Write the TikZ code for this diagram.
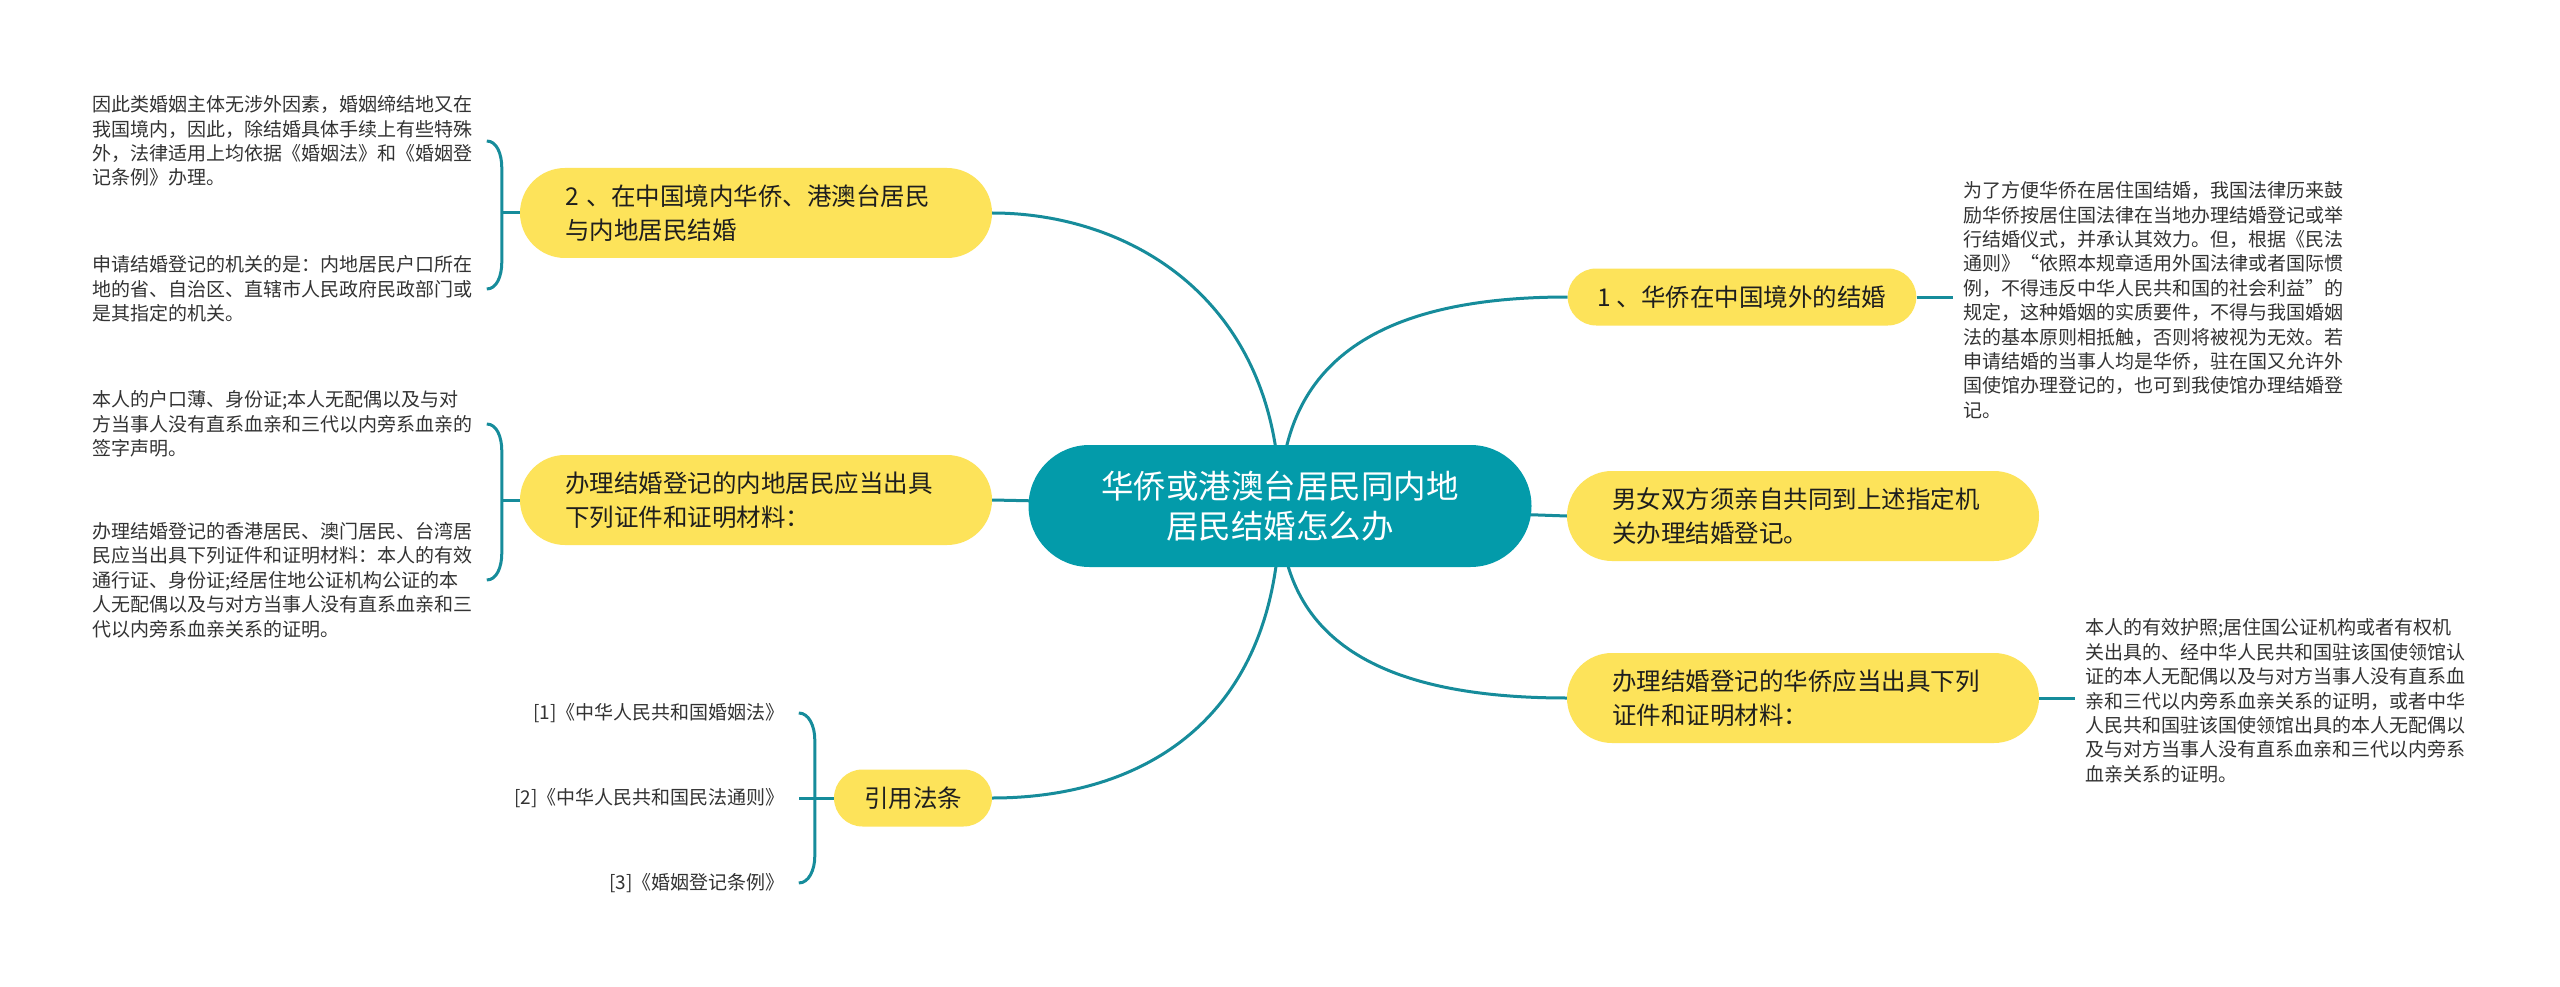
\documentclass[tikz,border=0pt]{standalone}
\usepackage{fontspec}
\newfontfamily\cjk{Noto Sans CJK SC}
\usetikzlibrary{calc, backgrounds}
\definecolor{hubteal}{RGB}{3,155,170}
\definecolor{limbteal}{RGB}{22,140,155}
\definecolor{topicyellow}{RGB}{253,227,90}
\definecolor{inkdark}{RGB}{30,30,30}
\definecolor{inkgrey}{RGB}{51,51,51}

\begin{document}
\begin{tikzpicture}[x=1pt, y=-1pt,
  hub/.style={fill=hubteal, text=white, font=\cjk\fontsize{32.5}{40}\selectfont, align=center,
    minimum width=503pt, minimum height=122pt, rounded corners=61pt, inner sep=0pt},
  topic/.style={fill=topicyellow, text=inkdark, font=\cjk\fontsize{24.5}{34}\selectfont, align=left,
    text width=382pt, inner xsep=45pt, inner ysep=0pt, minimum height=90pt, rounded corners=45pt},
  shorttopic/.style={fill=topicyellow, text=inkdark, font=\cjk\fontsize{24.5}{34}\selectfont,
    inner xsep=30pt, inner ysep=0pt, minimum height=57pt, rounded corners=28.5pt},
  note/.style={text=inkgrey, font=\cjk\fontsize{19}{24.4}\selectfont, align=left, inner sep=0pt},
  limb/.style={draw=limbteal, line width=3pt}]
  % Canvas
  \useasboundingbox (0,0) rectangle (2560,987);
  \begin{scope}[on background layer]
    \fill[white] (0,0) rectangle (2560,987);
  \end{scope}
  % Centre
  \node[hub] (hub) at (1280,506) {华侨或港澳台居民同内地\\居民结婚怎么办};
  % Right topics
  \node[shorttopic] (abroad) at (1742,297) {1 、华侨在中国境外的结婚};
  \node[topic] (jointly) at (1803,516) {男女双方须亲自共同到上述指定机\\关办理结婚登记。};
  \node[topic] (overseasdocs) at (1803,698) {办理结婚登记的华侨应当出具下列\\证件和证明材料：};
  % Left topics
  \node[topic] (domestic) at (756,213) {2 、在中国境内华侨、港澳台居民\\与内地居民结婚};
  \node[topic] (mainlanddocs) at (756,500) {办理结婚登记的内地居民应当出具\\下列证件和证明材料：};
  \node[shorttopic] (refs) at (913,798) {引用法条};
  % Right notes
  \node[note, anchor=west, inner xsep=10pt] (abroadnote) at (1953,300) {为了方便华侨在居住国结婚，我国法律历来鼓\\励华侨按居住国法律在当地办理结婚登记或举\\行结婚仪式，并承认其效力。但，根据《民法\\通则》“依照本规章适用外国法律或者国际惯\\例，不得违反中华人民共和国的社会利益”的\\规定，这种婚姻的实质要件，不得与我国婚姻\\法的基本原则相抵触，否则将被视为无效。若\\申请结婚的当事人均是华侨，驻在国又允许外\\国使馆办理登记的，也可到我使馆办理结婚登\\记。};
  \node[note, anchor=west, inner xsep=10pt] (overseasnote) at (2075,701) {本人的有效护照;居住国公证机构或者有权机\\关出具的、经中华人民共和国驻该国使领馆认\\证的本人无配偶以及与对方当事人没有直系血\\亲和三代以内旁系血亲关系的证明，或者中华\\人民共和国驻该国使领馆出具的本人无配偶以\\及与对方当事人没有直系血亲和三代以内旁系\\血亲关系的证明。};
  % Left notes
  \node[note, anchor=west] (lawnote) at (92,141) {因此类婚姻主体无涉外因素，婚姻缔结地又在\\我国境内，因此，除结婚具体手续上有些特殊\\外，法律适用上均依据《婚姻法》和《婚姻登\\记条例》办理。};
  \node[note, anchor=west] (officenote) at (92,289) {申请结婚登记的机关的是：内地居民户口所在\\地的省、自治区、直辖市人民政府民政部门或\\是其指定的机关。};
  \node[note, anchor=west] (hukounote) at (92,424) {本人的户口薄、身份证;本人无配偶以及与对\\方当事人没有直系血亲和三代以内旁系血亲的\\签字声明。};
  \node[note, anchor=west] (hkmtnote) at (92,580) {办理结婚登记的香港居民、澳门居民、台湾居\\民应当出具下列证件和证明材料：本人的有效\\通行证、身份证;经居住地公证机构公证的本\\人无配偶以及与对方当事人没有直系血亲和三\\代以内旁系血亲关系的证明。};
  \node[note, anchor=east] (marriagelaw) at (785,713) {[1]《中华人民共和国婚姻法》};
  \node[note, anchor=east] (civillaw) at (785,798) {[2]《中华人民共和国民法通则》};
  \node[note, anchor=east] (regulation) at (785,883) {[3]《婚姻登记条例》};
  % Main branches
  \begin{scope}[on background layer]
    \draw[limb] (hub.center) .. controls +(0,-206) and +(138,0) .. (domestic.east);
    \draw[limb] (hub.center) -- (mainlanddocs.east);
    \draw[limb] (hub.center) .. controls +(0,214) and +(150,0) .. (refs.east);
    \draw[limb] (hub.center) .. controls +(0,-146) and +(-187,0) .. (abroad.west);
    \draw[limb] (hub.center) -- (jointly.west);
    \draw[limb] (hub.center) .. controls +(0,134) and +(-187,0) .. (overseasdocs.west);
  \end{scope}
  % Right leaves
  \draw[limb] (abroad.east) -- (abroad.east -| abroadnote.west);
  \draw[limb] (overseasdocs.east) -- (overseasdocs.east -| overseasnote.west);
  % Left brackets
  \coordinate (j1) at ($(domestic.west)+(-18,0)$);
  \draw[limb] (domestic.west) -- (j1);
  \draw[limb] ($(j1 |- lawnote.east)+(-15,0)$) .. controls +(10,0) and +(0,-14) .. ($(j1 |- lawnote.east)+(0,27)$)
    -- ($(j1 |- officenote.east)+(0,-27)$) .. controls +(0,14) and +(10,0) .. ($(j1 |- officenote.east)+(-15,0)$);
  \coordinate (j2) at ($(mainlanddocs.west)+(-18,0)$);
  \draw[limb] (mainlanddocs.west) -- (j2);
  \draw[limb] ($(j2 |- hukounote.east)+(-15,0)$) .. controls +(10,0) and +(0,-14) .. ($(j2 |- hukounote.east)+(0,27)$)
    -- ($(j2 |- hkmtnote.east)+(0,-27)$) .. controls +(0,14) and +(10,0) .. ($(j2 |- hkmtnote.east)+(-15,0)$);
  \coordinate (j3) at ($(refs.west)+(-19,0)$);
  \draw[limb] (refs.west) -- ($(j3 |- civillaw.east)+(-16,0)$);
  \draw[limb] ($(j3 |- marriagelaw.east)+(-16,0)$) .. controls +(10,0) and +(0,-14) .. ($(j3 |- marriagelaw.east)+(0,27)$)
    -- ($(j3 |- regulation.east)+(0,-27)$) .. controls +(0,14) and +(10,0) .. ($(j3 |- regulation.east)+(-16,0)$);
\end{tikzpicture}
\end{document}
